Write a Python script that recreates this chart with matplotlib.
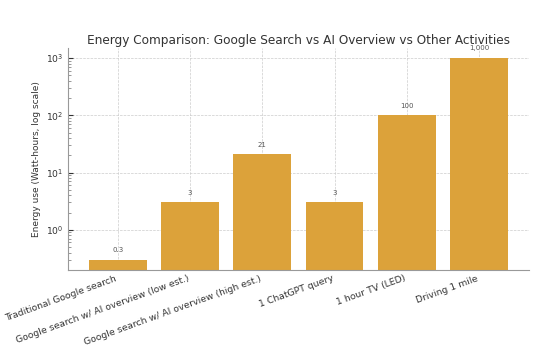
import matplotlib
matplotlib.use('Agg')
import matplotlib.pyplot as plt
import numpy as np

# 数据
activities = ['Traditional Google search', 'Google search w/ AI overview (low est.)',
              'Google search w/ AI overview (high est.)', '1 ChatGPT query',
              '1 hour TV (LED)', 'Driving 1 mile']
energy_wh = [0.3, 3, 21, 3, 100, 1000]
value_labels = ['0.3', '3', '21', '3', '100', '1,000']

fig, ax = plt.subplots(figsize=(5.51, 3.55), dpi=100)
x = np.arange(len(activities))
bars = ax.bar(x, energy_wh, width=0.8, color='#DCA23A', zorder=2)
ax.set_yscale('log')

# 数据标签
for xi, y, s in zip(x, energy_wh, value_labels):
    ax.text(xi, y * 1.3, s, ha='center', va='bottom', fontsize=5, color='#555555')

ax.set_xticks(x)
ax.set_xticklabels(activities, rotation=20, ha='right', fontsize=6.7, color='#333333')
ax.tick_params(axis='y', labelsize=6.7, colors='#333333', direction='in', pad=3)
ax.tick_params(axis='x', direction='in', length=3, pad=3)
ax.tick_params(axis='y', which='minor', direction='in', length=2, colors='#888888')
ax.set_ylabel('Energy use (Watt-hours, log scale)', fontsize=6.5, color='#333333', labelpad=4)
ax.set_title('Energy Comparison: Google Search vs AI Overview vs Other Activities',
             fontsize=8.7, color='#333333', pad=3)

ax.grid(True, which='major', linestyle='--', linewidth=0.5, color='#cccccc', zorder=0)
for s in ['top', 'right']:
    ax.spines[s].set_visible(False)
for s in ['left', 'bottom']:
    ax.spines[s].set_color('#999999')

plt.subplots_adjust(left=0.123, right=0.96, top=0.865, bottom=0.24)
plt.savefig('out.png', dpi=100)
